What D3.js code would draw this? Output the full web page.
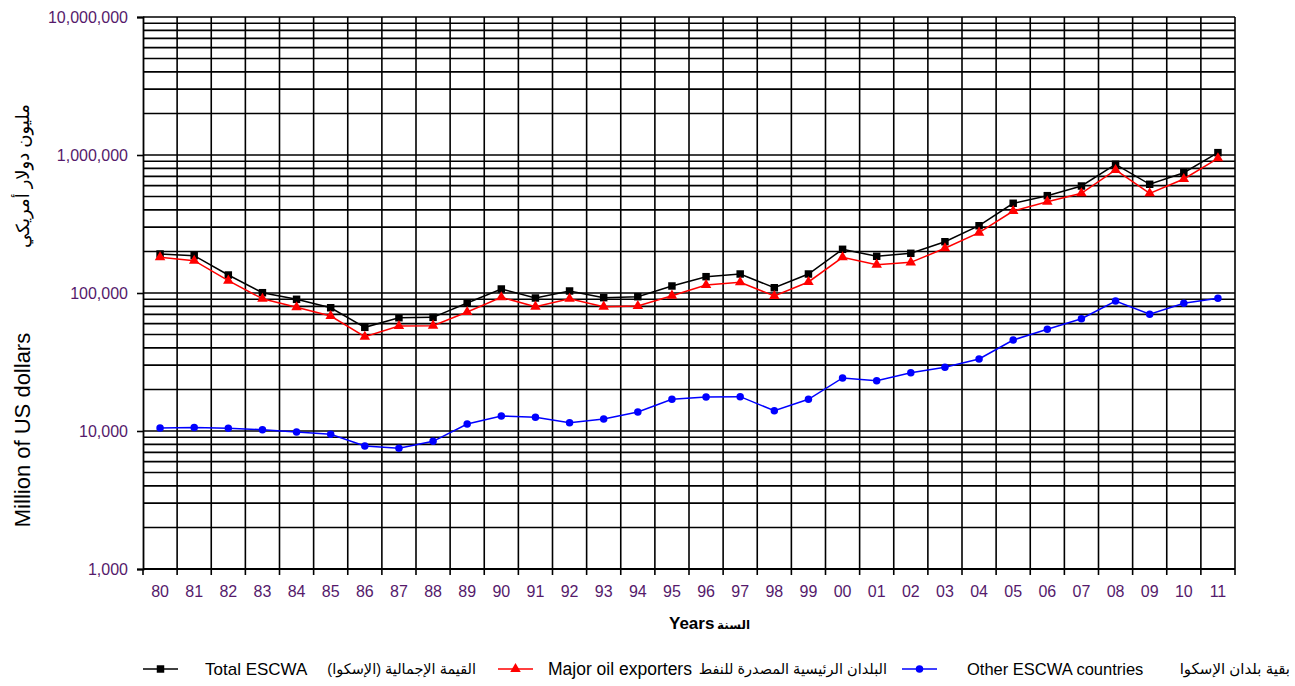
<!DOCTYPE html>
<html><head><meta charset="utf-8">
<script src="https://cdn.jsdelivr.net/npm/d3@7"></script>
<style>
html,body{margin:0;padding:0;background:#fff;}
svg{display:block;font-family:"Liberation Sans",Arial,"DejaVu Sans",sans-serif;}
</style></head>
<body><svg id="chart" width="1295" height="686"></svg>
<script>
const categories = ["80","81","82","83","84","85","86","87","88","89","90","91","92","93","94","95","96","97","98","99","00","01","02","03","04","05","06","07","08","09","10","11"];
const totalESCWA = [191700,186400,135000,100500,90000,78200,56400,66200,66600,84700,106900,92000,103400,92500,94000,112400,131300,137300,109200,137300,207300,184500,193900,235300,307300,446800,507300,596100,856600,613500,744300,1040000];
const majorOil = [181500,171400,122800,90900,78800,68100,48200,57700,58000,72800,93100,79600,90900,79600,80500,95600,114300,119600,95100,120200,181500,160400,166800,210800,273500,392700,458800,527600,778800,527600,670300,946800];
const otherESCWA = [10500,10600,10450,10220,9830,9460,7790,7490,8420,11240,12840,12560,11480,12210,13730,16970,17640,17730,14030,16970,24220,23150,26450,28940,33240,45640,54580,65150,87500,70100,84220,91530];
const yMajorTicks = [1000,10000,100000,1000000,10000000];
const seriesNames = ["Total ESCWA","Major oil exporters","Other ESCWA countries"];
const seriesNamesAr = ["القيمة الإجمالية (الإسكوا)","البلدان الرئيسية المصدرة للنفط","بقية بلدان الإسكوا"];
const yTitle = "Million of US dollars";
const yTitleAr = "مليون دولار أمريكي";
const xTitle = "Years";
const xTitleAr = "السنة";

const svg = d3.select("#chart");
const L = 143, R = 1235, T = 17, B = 569;
const x = d3.scaleBand().domain(categories).range([L, R]).padding(0);
const y = d3.scaleLog().domain([1000, 10000000]).range([B, T]);
const cx = c => x(c) + x.bandwidth()/2;
const labelColor = "#551a6b";

// horizontal grid
svg.append("g").selectAll("line").data(y.ticks()).join("line")
  .attr("x1", L).attr("x2", R).attr("y1", d => y(d)).attr("y2", d => y(d))
  .attr("stroke", "#000").attr("stroke-width", 1.6);
// vertical grid
const bounds = categories.slice(1).map(c => x(c)).concat([R]);
svg.append("g").selectAll("line").data(bounds).join("line")
  .attr("x1", d => d).attr("x2", d => d).attr("y1", T).attr("y2", B)
  .attr("stroke", "#000").attr("stroke-width", 1.6);

// y axis
const yAxis = svg.append("g").attr("transform", `translate(${L},0)`)
  .call(d3.axisLeft(y).tickValues(yMajorTicks).tickFormat(d3.format(",")).tickSize(6).tickPadding(9));
yAxis.select(".domain").attr("stroke", "#000").attr("stroke-width", 1.8);
yAxis.selectAll(".tick line").attr("stroke", "#000").attr("stroke-width", 1.6);
yAxis.selectAll(".tick text").attr("fill", labelColor).attr("font-size", 16)
  .attr("font-family", "Liberation Sans, Arial, sans-serif");

// x axis
const xg = svg.append("g");
xg.append("line").attr("x1", L).attr("x2", R).attr("y1", B).attr("y2", B).attr("stroke", "#000").attr("stroke-width", 1.8);
xg.selectAll("line.tk").data([L].concat(bounds)).join("line").attr("class","tk")
  .attr("x1", d => d).attr("x2", d => d).attr("y1", B).attr("y2", B + 6).attr("stroke", "#000").attr("stroke-width", 1.6);
xg.selectAll("text").data(categories).join("text")
  .attr("x", d => cx(d)).attr("y", 597).attr("text-anchor", "middle")
  .attr("font-size", 16).attr("fill", labelColor).text(d => d);

// titles
svg.append("text").attr("transform", "translate(30,430) rotate(-90)").attr("text-anchor", "middle")
  .attr("font-size", 22).attr("fill", "#000").text(yTitle);
svg.append("text").attr("transform", "translate(29,176) rotate(-90)").attr("text-anchor", "middle")
  .attr("font-size", 18).attr("fill", "#000").text(yTitleAr);
svg.append("text").attr("x", 669).attr("y", 629).attr("font-size", 17).attr("font-weight", "bold").text(xTitle);
svg.append("text").attr("x", 717).attr("y", 629).attr("font-size", 12).attr("font-weight", "bold").text(xTitleAr);

// series
const series = [
  {vals: totalESCWA, color: "#000", marker: "square"},
  {vals: majorOil, color: "#ff0000", marker: "triangle"},
  {vals: otherESCWA, color: "#0000ff", marker: "circle"}
];
const symType = {square: d3.symbolSquare, triangle: d3.symbolTriangle, circle: d3.symbolCircle};
const symSize = {square: 56, triangle: 48, circle: 44};
const line = d3.line().x((d,i) => cx(categories[i])).y(d => y(d));
series.forEach(s => {
  const g = svg.append("g");
  g.append("path").datum(s.vals).attr("d", line).attr("fill", "none").attr("stroke", s.color).attr("stroke-width", 1.5);
  g.selectAll("path.m").data(s.vals).join("path").attr("class", "m")
    .attr("transform", (d,i) => `translate(${cx(categories[i])},${y(d)})`)
    .attr("d", d3.symbol().type(symType[s.marker]).size(symSize[s.marker]))
    .attr("fill", s.color);
});

// legend
const legY = 669;
const legItems = [
  {lx: 143, tx: 205, ax: 476, fs: 17, afs: 14.5, s: series[0]},
  {lx: 498, tx: 548, ax: 887, fs: 17.5, afs: 14.5, s: series[1]},
  {lx: 902, tx: 967, ax: 1290, fs: 16.5, afs: 15, s: series[2]}
];
legItems.forEach((it, i) => {
  const g = svg.append("g");
  g.append("line").attr("x1", it.lx).attr("x2", it.lx + 35).attr("y1", legY).attr("y2", legY)
    .attr("stroke", it.s.color).attr("stroke-width", 1.5);
  g.append("path").attr("transform", `translate(${it.lx + 17.5},${legY})`)
    .attr("d", d3.symbol().type(symType[it.s.marker]).size(symSize[it.s.marker])).attr("fill", it.s.color);
  g.append("text").attr("x", it.tx).attr("y", legY + 6).attr("font-size", it.fs).text(seriesNames[i]);
  g.append("text").attr("x", it.ax).attr("y", legY + 5).attr("text-anchor", "end").attr("font-size", it.afs).text(seriesNamesAr[i]);
});
</script></body></html>
